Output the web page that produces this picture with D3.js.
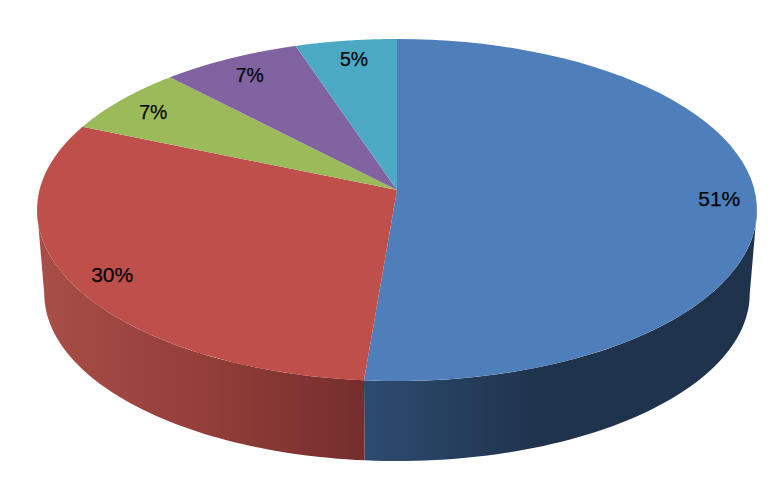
<!DOCTYPE html>
<html>
<head>
<meta charset="utf-8">
<style>html,body{margin:0;padding:0;background:#fff}svg{display:block}</style>
<script src="https://cdn.jsdelivr.net/npm/d3@7/dist/d3.min.js"></script>
</head>
<body>
<svg id="chart" width="784" height="486"></svg>
<script>
const categories = ["A", "B", "C", "D", "E"];
const shares = [51.3, 30.1, 6.5, 7.0, 5.1];
const topColors = ["#4f7fbb", "#be4f4b", "#9bba59", "#8063a0", "#4ba9c4"];

const svg = d3.select("#chart");
const rows = categories.map((c, i) => ({c, share: shares[i], color: topColors[i]}));
const arcs = d3.pie().sort(null).value(d => d.share)(rows);

// Perspective of the tilted disc: near rim is larger than the far rim
const k = 0.117, A = 357.5, B = 168.7, cx = 397;
function project(theta, r, x0, y0, s) {
  const u = r * Math.sin(theta), v = -r * Math.cos(theta), w = 1 - k * v;
  return [x0 + s * A * u / w, y0 + s * B * v / w];
}
const topFace = (t, r = 1) => project(t, r, cx, 190, 1);
const bottomFace = t => project(t, 1, cx, 273.8, 0.98);
const line = d3.line();
const samples = (a, b) => d3.range(0, 61).map(i => a + (b - a) * i / 60);

const defs = svg.append("defs");
function gradient(id, x1, x2, stops) {
  const g = defs.append("linearGradient").attr("id", id)
    .attr("gradientUnits", "userSpaceOnUse")
    .attr("x1", x1).attr("x2", x2).attr("y1", 0).attr("y2", 0);
  stops.forEach(([o, c]) => g.append("stop").attr("offset", o).attr("stop-color", c));
}
gradient("wall0", 365, 752, [[0, "#2d4b70"], [0.45, "#1f334d"], [1, "#1f334d"]]);
gradient("wall1", 44, 365, [[0, "#a84d48"], [0.5, "#933e39"], [1, "#752e2d"]]);

// Visible side wall runs between the silhouette points of the disc
const wallStart = Math.acos(-k), wallEnd = 2 * Math.PI - wallStart;
arcs.forEach((d, i) => {
  const a = Math.max(d.startAngle, wallStart), b = Math.min(d.endAngle, wallEnd);
  if (a >= b) return;
  const ts = samples(a, b);
  svg.append("path")
    .attr("d", line(ts.map(t => topFace(t)).concat(ts.slice().reverse().map(bottomFace))) + "Z")
    .attr("fill", `url(#wall${i})`);
});

// Top face
svg.selectAll("path.slice").data(arcs).join("path")
  .attr("class", "slice")
  .attr("fill", d => d.data.color)
  .attr("d", d => line([topFace(0, 0)].concat(samples(d.startAngle, d.endAngle).map(t => topFace(t)))) + "Z");

// Labels
const pct = d3.format(".0f");
svg.selectAll("text").data(arcs).join("text")
  .each(function (d) {
    const p = topFace((d.startAngle + d.endAngle) / 2, 0.89);
    d3.select(this).attr("x", p[0] + 3).attr("y", p[1] + 10);
  })
  .attr("text-anchor", "middle")
  .attr("font-family", "Liberation Sans, Arial, sans-serif")
  .attr("font-size", 20)
  .attr("fill", "#050505")
  .attr("stroke", "#050505")
  .attr("stroke-width", 0.25)
  .attr("textLength", d => pct(d.data.share).length === 2 ? 42 : 28)
  .attr("lengthAdjust", "spacingAndGlyphs")
  .text(d => pct(d.data.share) + "%");
</script>
</body>
</html>
